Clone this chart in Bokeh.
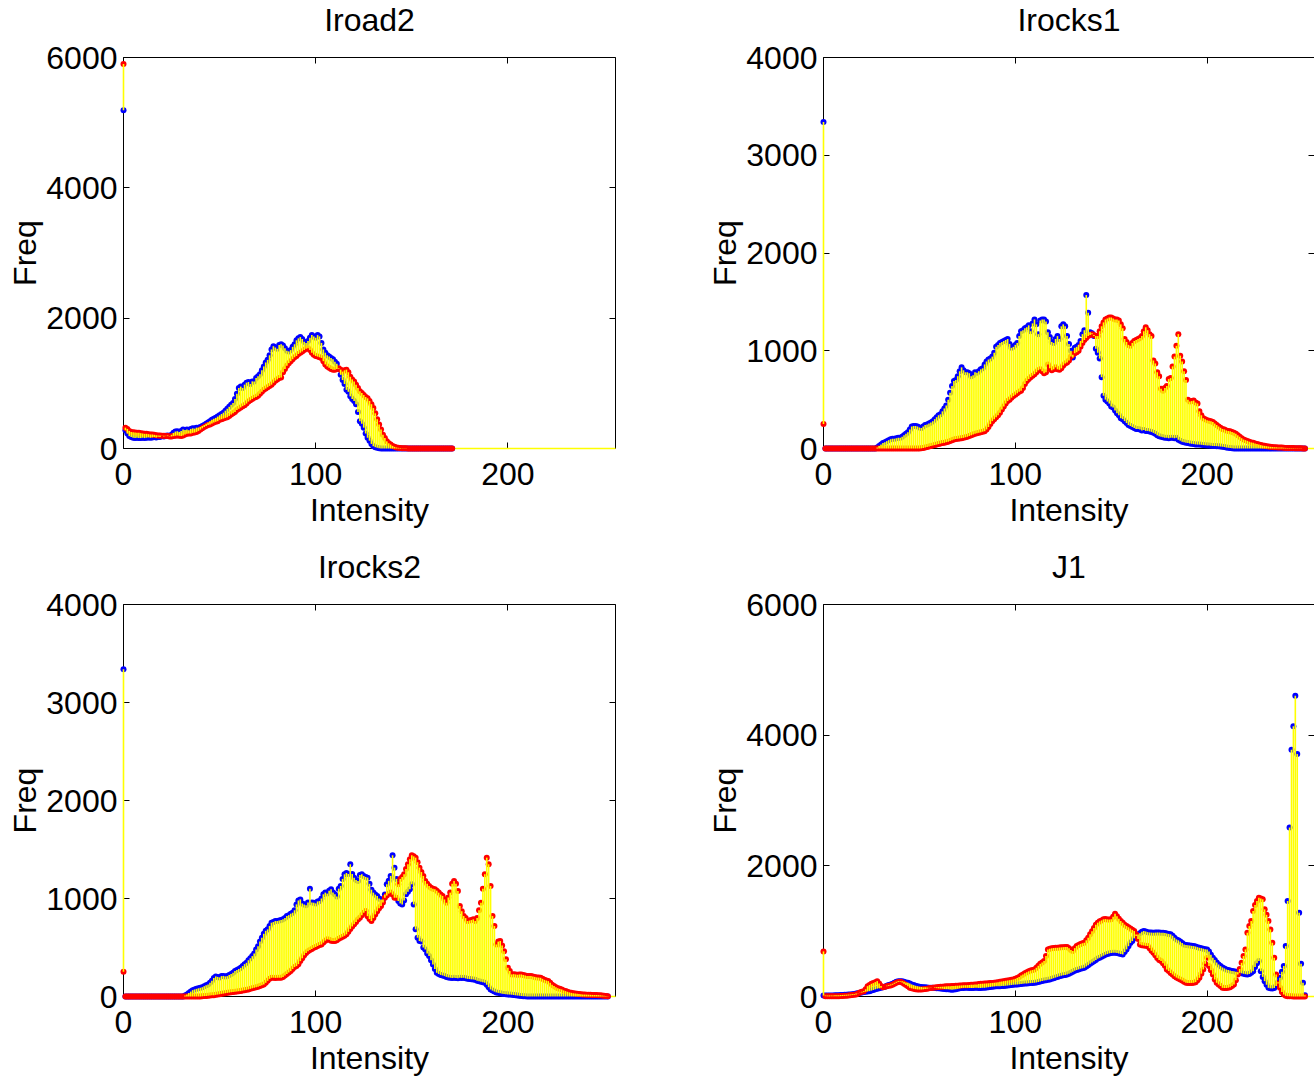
import math
from bokeh.plotting import figure
from bokeh.layouts import column, row
from bokeh.models import LinearAxis, FixedTicker, Range1d
from bokeh.core.properties import value
from bokeh.embed import file_html
from bokeh.resources import INLINE

FONT = "Liberation Sans"
FS = "32px"
XMAX = 256
x_ticks = [0, 100, 200]

titles = ["Iroad2", "Irocks1", "Irocks2", "J1"]
x_label = "Intensity"
y_label = "Freq"
y_max = [6000, 4000, 4000, 6000]
y_ticks = [[0, 2000, 4000, 6000],
           [0, 1000, 2000, 3000, 4000],
           [0, 1000, 2000, 3000, 4000],
           [0, 2000, 4000, 6000]]

iroad2_blue = [
    5190, 280, 230, 190, 175, 165, 160, 165, 160, 160,
    165, 160, 165, 170, 165, 170, 175, 170, 180, 175,
    190, 185, 195, 200, 190, 210, 240, 260, 265, 255,
    270, 290, 285, 290, 280, 300, 310, 305, 320, 320,
    330, 345, 360, 380, 400, 420, 440, 455, 470, 490,
    510, 530, 550, 580, 610, 640, 670, 700, 760, 840,
    930, 950, 930, 980, 1010, 1020, 990, 1030, 1030, 1080,
    1110, 1140, 1200, 1260, 1320, 1360, 1430, 1520, 1570, 1550,
    1530, 1590, 1600, 1580, 1540, 1500, 1490, 1510, 1560, 1600,
    1660, 1690, 1710, 1680, 1640, 1620, 1650, 1700, 1740, 1720,
    1700, 1740, 1720, 1620, 1520, 1470, 1430, 1410, 1390, 1370,
    1330, 1300, 1220, 1130, 1050, 990, 900, 870, 800, 760,
    730, 680, 560, 420, 380, 320, 230, 165, 120, 70,
    35, 20, 10, 5, 0, 0, 0, 0, 0, 0,
    0, 0, 0, 0, 0, 0, 0, 0, 0, 0,
    0, 0, 0, 0, 0, 0, 0, 0, 0, 0,
    0, 0, 0, 0, 0, 0, 0, 0, 0, 0,
    0, 0]
iroad2_red = [
    5900, 320, 300, 270, 255, 250, 245, 240, 240, 235,
    230, 225, 225, 220, 215, 215, 210, 205, 200, 200,
    195, 195, 190, 190, 185, 185, 190, 195, 200, 195,
    190, 200, 215, 225, 230, 230, 240, 245, 255, 270,
    290, 310, 330, 345, 360, 370, 385, 400, 410, 420,
    440, 450, 460, 470, 480, 500, 520, 540, 560, 590,
    610, 630, 650, 665, 690, 720, 740, 760, 780, 790,
    810, 840, 870, 900, 920, 940, 960, 980, 1010, 1040,
    1060, 1080, 1090, 1170, 1220, 1270, 1310, 1340, 1370, 1400,
    1420, 1450, 1470, 1490, 1510, 1530, 1540, 1510, 1470, 1440,
    1420, 1410, 1400, 1390, 1340, 1290, 1260, 1240, 1220, 1210,
    1210, 1220, 1230, 1210, 1180, 1200, 1210, 1170, 1100, 1060,
    1030, 980, 930, 880, 850, 820, 790, 770, 730, 680,
    620, 540, 450, 370, 290, 210, 160, 110, 80, 60,
    40, 25, 15, 10, 8, 5, 3, 2, 0, 0,
    0, 0, 0, 0, 0, 0, 0, 0, 0, 0,
    0, 0, 0, 0, 0, 0, 0, 0, 0, 0,
    0, 0]

irocks1_blue = [
    3340, 0, 0, 0, 0, 0, 0, 0, 0, 0,
    0, 0, 0, 0, 0, 0, 0, 0, 0, 0,
    0, 0, 0, 0, 0, 0, 0, 0, 10, 25,
    40, 55, 65, 75, 85, 95, 100, 100, 105, 110,
    110, 120, 135, 150, 165, 195, 225, 230, 230, 225,
    215, 210, 225, 240, 245, 255, 265, 280, 300, 320,
    340, 350, 380, 410, 440, 500, 570, 640, 690, 700,
    740, 790, 830, 800, 780, 780, 770, 740, 750, 780,
    775, 790, 810, 820, 860, 890, 910, 920, 940, 980,
    1040, 1060, 1080, 1090, 1100, 1110, 1120, 1070, 1030, 1040,
    1060, 1080, 1150, 1200, 1210, 1230, 1240, 1260, 1200, 1280,
    1320, 1270, 1170, 1310, 1320, 1320, 1300, 1190, 1140, 1090,
    1080, 1120, 1150, 1120, 1250, 1270, 1250, 1150, 1070, 1000,
    930, 1030, 1040, 1060, 1100, 1170, 1210, 1570, 1390, 1190,
    1180, 1150, 1020, 980, 920, 730, 540, 500, 480, 460,
    430, 420, 390, 360, 340, 310, 300, 280, 260, 240,
    230, 220, 210, 200, 200, 195, 185, 190, 180, 180,
    175, 170, 160, 150, 135, 125, 120, 115, 110, 110,
    105, 110, 110, 105, 110, 90, 80, 70, 65, 60,
    55, 50, 48, 45, 42, 40, 40, 38, 35, 32,
    30, 30, 28, 25, 25, 24, 22, 20, 18, 15,
    10, 8, 5, 2, 0, 0, 0, 0, 0, 0,
    0, 0, 0, 0, 0, 0, 0, 0, 0, 0,
    0, 0, 0, 0, 0, 0, 0, 0, 0, 0,
    0, 0, 0, 0, 0, 0, 0, 0, 0, 0,
    0, 0]
irocks1_red = [
    250, 0, 0, 0, 0, 0, 0, 0, 0, 0,
    0, 0, 0, 0, 0, 0, 0, 0, 0, 0,
    0, 0, 0, 0, 0, 0, 0, 0, 0, 0,
    0, 0, 0, 0, 0, 0, 0, 0, 0, 0,
    0, 0, 0, 0, 0, 0, 0, 0, 0, 0,
    0, 2, 5, 10, 15, 20, 25, 30, 35, 40,
    45, 50, 55, 58, 65, 70, 78, 85, 92, 98,
    100, 103, 106, 109, 115, 120, 128, 135, 143, 150,
    155, 160, 165, 172, 177, 195, 220, 250, 280, 300,
    320, 340, 365, 400, 430, 460, 485, 500, 520, 536,
    550, 565, 580, 590, 620, 660, 690, 710, 730, 745,
    760, 780, 800, 810, 790, 770, 780, 860, 820, 800,
    810, 830, 810, 805, 820, 850, 870, 880, 900, 940,
    960, 975, 985, 1000, 1040, 1080, 1110, 1130, 1150, 1160,
    1170, 1160, 1150, 1150, 1200, 1250, 1290, 1320, 1330, 1340,
    1340, 1330, 1320, 1320, 1310, 1270, 1230, 1120, 1090, 1060,
    1050, 1080, 1100, 1110, 1120, 1130, 1150, 1200, 1240, 1210,
    1170, 1150, 900, 870, 780, 740, 610, 590, 620, 640,
    710, 720, 840, 940, 1050, 1170, 950, 890, 790, 700,
    500, 480, 485, 490, 470, 460, 380, 340, 310, 300,
    290, 285, 280, 270, 255, 240, 225, 212, 200, 195,
    185, 180, 177, 170, 160, 150, 135, 120, 105, 92,
    85, 78, 70, 62, 58, 52, 47, 42, 35, 30,
    27, 24, 20, 17, 15, 13, 12, 11, 10, 9,
    7, 6, 5, 5, 4, 4, 3, 3, 2, 2,
    1, 1]

irocks2_blue = [
    3340, 0, 0, 0, 0, 0, 0, 0, 0, 0,
    0, 0, 0, 0, 0, 0, 0, 0, 0, 0,
    0, 0, 0, 0, 0, 0, 0, 0, 0, 0,
    0, 0, 10, 20, 35, 50, 65, 72, 78, 84,
    89, 95, 105, 115, 123, 140, 160, 190, 205, 200,
    195, 208, 210, 205, 208, 220, 230, 242, 260, 270,
    280, 293, 310, 330, 344, 370, 390, 412, 440, 480,
    514, 560, 600, 640, 670, 685, 720, 753, 760, 770,
    770, 775, 780, 787, 800, 821, 830, 845, 855, 880,
    940, 980, 991, 950, 940, 930, 960, 1100, 960, 957,
    950, 970, 974, 1000, 1043, 1060, 1050, 1080, 1094, 1060,
    1043, 1020, 1100, 1128, 1200, 1247, 1260, 1250, 1349, 1250,
    1213, 1190, 1179, 1240, 1247, 1230, 1220, 1213, 1150, 1090,
    1060, 1040, 1026, 1000, 990, 991, 1040, 1145, 1180, 1230,
    1441, 1315, 1200, 974, 950, 940, 980, 1043, 1070, 1094,
    1145, 940, 685, 600, 566, 560, 500, 480, 440, 412,
    370, 327, 280, 242, 230, 220, 215, 208, 200, 195,
    192, 190, 191, 190, 185, 192, 190, 191, 185, 180,
    178, 175, 174, 170, 160, 155, 150, 145, 140, 120,
    95, 72, 60, 50, 42, 37, 32, 28, 25, 22,
    20, 20, 18, 15, 12, 10, 8, 5, 3, 2,
    1, 0, 0, 0, 0, 0, 0, 0, 0, 0,
    0, 0, 0, 0, 0, 0, 0, 0, 0, 0,
    0, 0, 0, 0, 0, 0, 0, 0, 0, 0,
    0, 0, 0, 0, 0, 0, 0, 0, 0, 0,
    0, 0, 0]
irocks2_red = [
    252, 0, 0, 0, 0, 0, 0, 0, 0, 0,
    0, 0, 0, 0, 0, 0, 0, 0, 0, 0,
    0, 0, 0, 0, 0, 0, 0, 0, 0, 0,
    0, 0, 0, 0, 0, 0, 0, 0, 0, 0,
    0, 2, 4, 6, 8, 10, 12, 14, 17, 20,
    23, 27, 30, 34, 37, 40, 43, 46, 49, 52,
    54, 55, 60, 64, 68, 72, 78, 84, 89, 95,
    100, 106, 114, 123, 140, 160, 180, 191, 192, 190,
    191, 191, 191, 200, 215, 230, 245, 259, 280, 300,
    310, 330, 361, 390, 420, 445, 463, 475, 485, 497,
    505, 515, 525, 531, 550, 570, 583, 580, 570, 566,
    566, 575, 590, 600, 610, 620, 634, 660, 690, 715,
    736, 760, 785, 804, 830, 855, 872, 820, 790, 770,
    800, 838, 870, 900, 923, 960, 1008, 1030, 1050, 1060,
    1040, 1008, 1008, 1145, 1200, 1220, 1247, 1300, 1349, 1400,
    1441, 1430, 1417, 1370, 1315, 1270, 1230, 1179, 1150, 1128,
    1110, 1100, 1094, 1080, 1060, 1040, 1026, 990, 957, 1010,
    1060, 1150, 1179, 1150, 1077, 923, 870, 821, 800, 770,
    775, 780, 787, 770, 800, 880, 957, 1100, 1247, 1417,
    1349, 1128, 821, 719, 531, 560, 566, 520, 463, 380,
    293, 260, 225, 228, 225, 222, 225, 225, 220, 215,
    210, 210, 208, 205, 200, 195, 193, 191, 180, 170,
    163, 157, 140, 120, 106, 95, 85, 78, 72, 62,
    55, 48, 42, 37, 33, 30, 28, 25, 23, 21,
    20, 19, 18, 17, 16, 15, 15, 14, 12, 10,
    8, 5, 2]

j1_blue = [
    15, 15, 15, 16, 16, 17, 18, 18, 20, 22,
    24, 26, 28, 30, 31, 35, 40, 45, 50, 56,
    62, 68, 74, 78, 82, 90, 100, 110, 120, 128,
    133, 140, 150, 165, 175, 184, 195, 210, 225, 235,
    235, 232, 225, 215, 210, 200, 185, 175, 165, 158,
    150, 145, 140, 140, 138, 135, 133, 133, 130, 128,
    125, 122, 120, 115, 112, 110, 107, 105, 108, 112,
    118, 125, 130, 132, 133, 133, 132, 130, 132, 133,
    135, 132, 130, 133, 133, 138, 142, 146, 150, 152,
    155, 157, 158, 160, 162, 165, 168, 172, 176, 180,
    182, 184, 188, 192, 195, 198, 200, 203, 205, 208,
    210, 215, 222, 230, 238, 245, 250, 255, 261, 270,
    280, 290, 300, 310, 318, 325, 330, 337, 350, 365,
    380, 395, 405, 415, 425, 432, 440, 460, 480, 500,
    520, 540, 560, 580, 593, 610, 625, 640, 650, 660,
    665, 670, 668, 665, 660, 650, 644, 680, 721, 770,
    820, 848, 890, 925, 950, 970, 990, 1002, 995, 985,
    980, 978, 976, 978, 980, 978, 976, 976, 972, 965,
    958, 951, 930, 900, 874, 860, 840, 820, 797, 790,
    785, 780, 775, 772, 765, 755, 746, 740, 732, 725,
    721, 690, 640, 593, 560, 520, 490, 465, 445, 430,
    414, 405, 398, 392, 388, 380, 372, 363, 355, 348,
    342, 337, 345, 365, 388, 450, 510, 542, 388, 300,
    235, 180, 133, 125, 123, 130, 160, 220, 286, 380,
    465, 772, 1462, 2586, 3777, 4135, 4605, 3711, 1283, 500,
    210, 20]
j1_red = [
    690, 5, 3, 2, 2, 2, 3, 4, 5, 6,
    8, 10, 12, 15, 18, 22, 26, 31, 45, 60,
    72, 82, 110, 158, 175, 194, 205, 220, 235, 200,
    160, 143, 150, 158, 163, 169, 180, 195, 210, 222,
    225, 215, 195, 175, 155, 133, 125, 118, 112, 108,
    107, 107, 110, 115, 120, 125, 130, 133, 138, 142,
    145, 148, 150, 152, 155, 157, 158, 160, 162, 163,
    165, 168, 170, 172, 173, 174, 176, 178, 180, 182,
    185, 190, 194, 196, 198, 200, 202, 205, 208, 210,
    215, 220, 225, 230, 235, 240, 245, 250, 255, 261,
    270, 285, 300, 320, 337, 355, 370, 385, 398, 405,
    414, 440, 470, 500, 520, 542, 620, 721, 730, 738,
    742, 745, 746, 750, 752, 755, 756, 756, 740, 710,
    695, 740, 772, 790, 805, 815, 823, 860, 900, 951,
    1000, 1050, 1100, 1130, 1150, 1165, 1181, 1185, 1180, 1178,
    1181, 1220, 1268, 1230, 1190, 1155, 1130, 1100, 1078, 1060,
    1040, 1020, 1002, 950, 880, 797, 785, 780, 775, 772,
    740, 700, 670, 630, 590, 560, 542, 510, 470, 414,
    390, 360, 337, 310, 290, 275, 261, 245, 225, 210,
    205, 205, 208, 210, 220, 250, 286, 350, 414, 500,
    593, 465, 400, 337, 260, 210, 184, 160, 133, 130,
    130, 133, 140, 160, 184, 250, 337, 420, 516, 620,
    721, 976, 1080, 1155, 1308, 1400, 1462, 1513, 1500, 1487,
    1334, 1250, 1155, 1027, 823, 593, 337, 200, 133, 70,
    31, 10, 5, 3, 2, 1, 0, 0, 0, 0,
    0, 0]

series_blue = [iroad2_blue, irocks1_blue, irocks2_blue, j1_blue]
series_red = [iroad2_red, irocks1_red, irocks2_red, j1_red]


def style_axis(ax, show_labels, show_line=True):
    ax.axis_line_color = "black" if show_line else None
    ax.axis_line_width = 1
    ax.major_tick_in = 6
    ax.major_tick_out = 0
    ax.major_tick_line_color = "black"
    ax.major_tick_line_width = 1
    ax.minor_tick_line_color = None
    if show_labels:
        ax.major_label_text_font = FONT
        ax.major_label_text_font_size = FS
        ax.major_label_text_color = "black"
    else:
        ax.major_label_text_font_size = "0px"
        ax.major_label_text_color = None
        ax.major_label_standoff = 0


def add_text(p, x, y, text, dx=0, dy=0, angle=0.0):
    r = p.text(x=[x], y=[y], text=[text], x_offset=dx, y_offset=dy, angle=angle,
               text_align="center", text_baseline="alphabetic",
               text_font=value(FONT), text_font_size=value(FS), text_color="black")
    r.level = "overlay"


def make_fig(k):
    col = k % 2
    rw = k // 2
    fw = 492 if col == 0 else 491
    fh = 391 if rw == 0 else 392
    p = figure(frame_width=fw, frame_height=fh, title=None,
               x_range=Range1d(0, XMAX), y_range=Range1d(0, y_max[k]),
               output_backend="svg", toolbar_location=None,
               x_axis_location=None, y_axis_location=None,
               min_border_left=123, min_border_right=(85 if col == 0 else 0),
               min_border_top=(57 if rw == 0 else 58),
               min_border_bottom=(98 if rw == 0 else 82))
    p.outline_line_color = None
    p.grid.visible = False
    p.background_fill_color = "white"
    p.border_fill_color = "white"

    xb = LinearAxis(ticker=FixedTicker(ticks=x_ticks))
    style_axis(xb, True)
    xb.major_label_standoff = 14
    p.add_layout(xb, "below")

    xt = LinearAxis(ticker=FixedTicker(ticks=x_ticks))
    style_axis(xt, False)
    p.add_layout(xt, "above")

    yl = LinearAxis(ticker=FixedTicker(ticks=y_ticks[k]))
    style_axis(yl, True)
    yl.major_label_standoff = 6
    p.add_layout(yl, "left")

    yr = LinearAxis(ticker=FixedTicker(ticks=y_ticks[k]))
    style_axis(yr, False, show_line=(col == 0))
    p.add_layout(yr, "right")

    b = series_blue[k]
    r = series_red[k]
    n = min(len(b), len(r))
    xs = list(range(n))
    renderers = [
        p.segment(x0=[n - 1], y0=[0], x1=[XMAX], y1=[0], line_color="yellow", line_width=1.5),
        p.scatter(list(range(len(b))), b, size=6, marker="circle",
                  fill_color="blue", line_color=None),
        p.scatter(list(range(len(r))), r, size=6, marker="circle",
                  fill_color="red", line_color=None),
        p.segment(x0=xs, y0=b[:n], x1=xs, y1=r[:n], line_color="yellow", line_width=1.6),
    ]
    for rr in renderers:
        rr.level = "overlay"

    # title and axis labels, offset in screen pixels from the frame edges
    add_text(p, XMAX / 2, y_max[k], titles[k], dy=-38)
    add_text(p, XMAX / 2, 0, x_label, dy=61)
    add_text(p, 0, y_max[k] / 2, y_label, dx=-99, angle=math.pi / 2)
    return p


figs = [make_fig(k) for k in range(4)]
layout = column(row(figs[0], figs[1]), row(figs[2], figs[3]))

with open("out.html", "w") as f:
    f.write(file_html(layout, INLINE))
